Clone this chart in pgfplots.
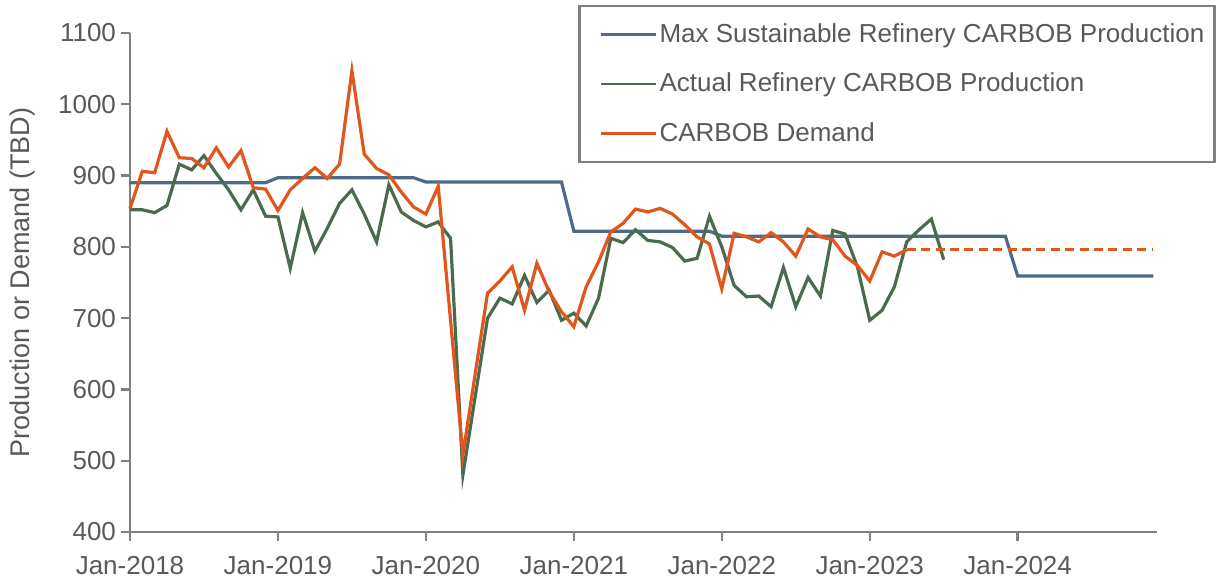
\documentclass[border=0pt]{standalone}
\usepackage{fontspec}
\setmainfont{Liberation Sans}
\usepackage{pgfplots}
\pgfplotsset{compat=1.18}
\usetikzlibrary{calc}
\definecolor{maxblue}{HTML}{4F6A88}
\definecolor{actgreen}{HTML}{4B6B4F}
\definecolor{demorange}{HTML}{E0561C}
\definecolor{txtgray}{HTML}{595959}
\definecolor{axgray}{HTML}{808080}

\begin{document}
\begin{tikzpicture}
\begin{axis}[
  name=ax,
  scale only axis,
  width=513.5pt,height=249.5pt,
  xmin=0,xmax=83.3,ymin=400,ymax=1100,
  axis x line=bottom,axis y line=left,
  axis line style={-,axgray,line width=1.2pt},
  tick style={axgray,line width=1.2pt},
  tick align=outside,
  major tick length=4.5pt,
  xtick={0,12,24,36,48,60,72},
  xticklabels={Jan-2018,Jan-2019,Jan-2020,Jan-2021,Jan-2022,Jan-2023,Jan-2024},
  ytick={400,500,...,1100},
  /pgf/number format/assume math mode=true,
  /pgf/number format/1000 sep={},
  tick label style={font=\fontsize{13}{15}\selectfont,text=txtgray},
  xticklabel style={yshift=-4pt},
  yticklabel style={xshift=1pt},
  ylabel={Production or Demand (TBD)},
  ylabel style={at={(axis description cs:-0.105,0.5)},anchor=center,font=\fontsize{13.5}{15}\selectfont,text=txtgray},
  legend style={at={(rel axis cs:1.057,1.056)},anchor=north east,
    draw=axgray,line width=1.2pt,font=\fontsize{13}{15}\selectfont,text=txtgray,
    inner xsep=4pt,inner ysep=6.5pt,row sep=10pt,
    nodes={inner xsep=1pt}},
  legend cell align=left,
  legend image code/.code={\path (0pt,0pt); \draw[#1,line width=1.4pt] (6pt,0pt) -- (33.5pt,0pt);},
  clip=false,
]
\addplot[maxblue,line width=1.6pt] coordinates {
(0,890)(11,890)(12,897)(23,897)(24,891)(35,891)(36,822)(47,822)(48,815)(71,815)(72,759)(83,759)};
\addplot[actgreen,line width=1.6pt] coordinates {
(0,852)(1,852)(2,848)(3,858)(4,916)(5,908)(6,928)(7,903)(8,880)(9,852)(10,880)(11,843)
(12,842)(13,770)(14,848)(15,794)(16,826)(17,861)(18,880)(19,846)(20,807)(21,887)(22,849)(23,837)
(24,828)(25,835)(26,812)(27,480)(28,590)(29,700)(30,728)(31,720)(32,760)(33,722)(34,739)(35,697)
(36,707)(37,689)(38,728)(39,812)(40,806)(41,824)(42,809)(43,807)(44,799)(45,780)(46,784)(47,843)
(48,800)(49,746)(50,730)(51,731)(52,716)(53,771)(54,716)(55,757)(56,731)(57,823)(58,818)(59,772)
(60,697)(61,711)(62,744)(63,807)(64,824)(65,839)(66,782)};
\addplot[demorange,line width=1.6pt] coordinates {
(0,854)(1,906)(2,904)(3,962)(4,925)(5,924)(6,911)(7,939)(8,912)(9,935)(10,883)(11,881)
(12,851)(13,880)(14,896)(15,911)(16,896)(17,916)(18,1047)(19,930)(20,910)(21,901)(22,877)(23,856)
(24,846)(25,885)(26,697)(27,508)(28,622)(29,735)(30,752)(31,772)(32,711)(33,777)(34,737)(35,709)
(36,688)(37,744)(38,779)(39,821)(40,833)(41,853)(42,849)(43,854)(44,846)(45,831)(46,814)(47,804)
(48,741)(49,819)(50,814)(51,807)(52,820)(53,807)(54,787)(55,825)(56,814)(57,810)(58,787)(59,774)
(60,752)(61,793)(62,787)(63,796)};
\addplot[demorange,line width=1.6pt,dash pattern=on 4.5pt off 2.7pt,forget plot] coordinates {
(63,796)(64,796)(65,796)(66,796)(67,796)(68,796)(69,796)(70,796)(71,796)(72,796)(73,796)(74,796)
(75,796)(76,796)(77,796)(78,796)(79,796)(80,796)(81,796)(82,796)(83,796)};
\legend{Max Sustainable Refinery CARBOB Production,Actual Refinery CARBOB Production,CARBOB Demand}
\end{axis}
\pgfresetboundingbox
\path ($(ax.south west)+(-65pt,-25pt)$) rectangle ($(ax.south west)+(544.5pt,266pt)$);
\end{tikzpicture}
\end{document}
